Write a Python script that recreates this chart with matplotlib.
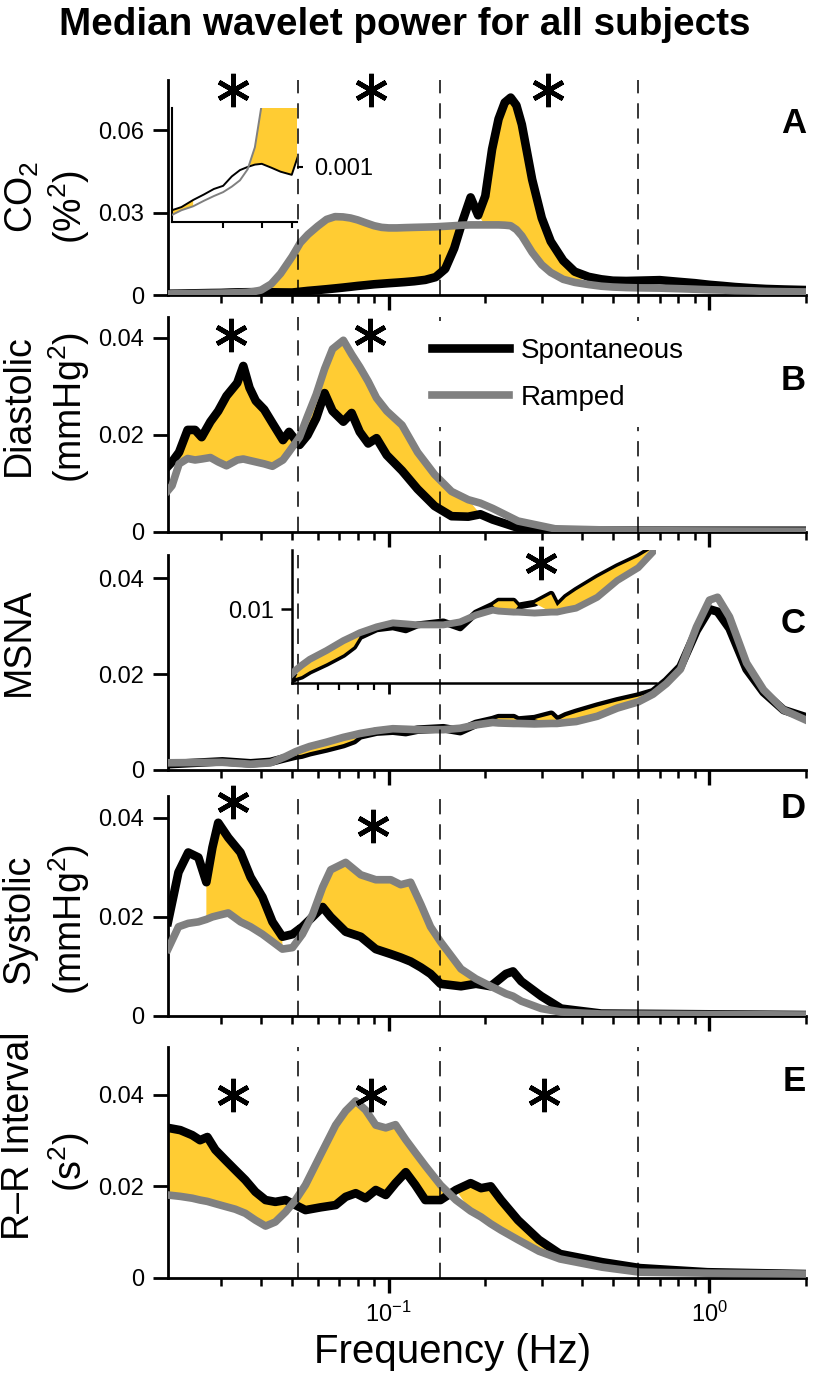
import matplotlib
matplotlib.use("Agg")
import numpy as np
import matplotlib.pyplot as plt
from matplotlib.ticker import FixedLocator, FuncFormatter, LogLocator, NullFormatter
from matplotlib.transforms import blended_transform_factory

plt.rcParams['font.family'] = 'Liberation Sans'
plt.rcParams['mathtext.fontset'] = 'custom'
plt.rcParams['mathtext.rm'] = 'Liberation Sans'
plt.rcParams['mathtext.it'] = 'Liberation Sans:italic'
plt.rcParams['mathtext.bf'] = 'Liberation Sans:bold'

# ---------------- data ----------------
band_edges = [0.052, 0.145, 0.6]

# A: CO2
freq_a = [0.0205, 0.022, 0.024, 0.026, 0.028, 0.030, 0.032, 0.034, 0.036, 0.038, 0.040,
          0.043, 0.046, 0.050, 0.053, 0.056, 0.060, 0.064, 0.068, 0.072, 0.076, 0.080,
          0.085, 0.090, 0.095, 0.100, 0.106, 0.112, 0.120, 0.130, 0.140, 0.150, 0.160,
          0.170, 0.180, 0.190, 0.200, 0.210, 0.220, 0.230, 0.240, 0.250, 0.260, 0.280,
          0.300, 0.320, 0.350, 0.380, 0.420, 0.460, 0.500, 0.550, 0.600, 0.700, 0.800,
          0.900, 1.00, 1.10, 1.20, 1.35, 1.50, 1.70, 2.00]
spont_a = [0.00045, 0.00049, 0.00058, 0.00065, 0.00072, 0.00076, 0.00088, 0.00096, 0.00100,
           0.00103, 0.00104, 0.00099, 0.00094, 0.00090, 0.0012, 0.0015, 0.0018, 0.0021,
           0.0024, 0.0027, 0.0030, 0.0033, 0.0036, 0.0039, 0.0041, 0.0043, 0.0045, 0.0047,
           0.0050, 0.0055, 0.0065, 0.0095, 0.017, 0.027, 0.0355, 0.029, 0.036, 0.053, 0.064,
           0.070, 0.0718, 0.069, 0.062, 0.042, 0.028, 0.0195, 0.0125, 0.0085, 0.0066, 0.0057,
           0.0052, 0.0051, 0.0052, 0.0054, 0.0048, 0.0043, 0.0037, 0.0033, 0.0029, 0.0025,
           0.0022, 0.0020, 0.0018]
ramp_a = [0.00039, 0.00045, 0.00050, 0.00057, 0.00063, 0.00068, 0.00075, 0.00083, 0.00097,
          0.00125, 0.0018, 0.004, 0.0078, 0.014, 0.019, 0.022, 0.025, 0.0275, 0.0285, 0.0284,
          0.028, 0.0273, 0.0262, 0.0252, 0.0246, 0.0244, 0.0244, 0.0245, 0.0246, 0.0247,
          0.0248, 0.025, 0.0252, 0.0254, 0.0255, 0.0255, 0.0255, 0.0255, 0.0255, 0.0254,
          0.0252, 0.0238, 0.0215, 0.0155, 0.011, 0.0082, 0.0057, 0.0046, 0.0038, 0.0032,
          0.0029, 0.0027, 0.0026, 0.0025, 0.0023, 0.0021, 0.0019, 0.0018, 0.0016, 0.0015,
          0.0013, 0.0012, 0.0011]
sig_a = [(0.0205, 0.024), (0.038, 0.172), (0.198, 0.40)]
stars_a = [0.0328, 0.0879, 0.314]

# B: diastolic
freq_b = [0.0205, 0.0211, 0.0222, 0.0236, 0.0249, 0.0261, 0.0278, 0.0294, 0.0312, 0.0337,
          0.0352, 0.0368, 0.0385, 0.0409, 0.0434, 0.0468, 0.0489, 0.0527, 0.0558, 0.0594,
          0.0631, 0.0668, 0.0722, 0.0766, 0.0812, 0.0863, 0.0916, 0.0986, 0.110, 0.123,
          0.139, 0.157, 0.177, 0.193, 0.211, 0.253, 0.330, 0.600, 2.00]
spont_b = [0.0135, 0.0144, 0.0164, 0.021, 0.021, 0.0195, 0.0227, 0.0249, 0.028, 0.0307,
           0.0342, 0.0297, 0.027, 0.0252, 0.0224, 0.0189, 0.0206, 0.0179, 0.0199, 0.0234,
           0.0286, 0.0249, 0.0227, 0.0245, 0.0206, 0.0182, 0.0193, 0.0158, 0.0126, 0.0088,
           0.0053, 0.0032, 0.0031, 0.0036, 0.0025, 0.0008, 0.0002, 0.0002, 0.0002]
ramp_b = [0.0085, 0.0095, 0.0140, 0.0151, 0.0148, 0.0150, 0.0153, 0.0144, 0.0136, 0.0148,
          0.0150, 0.0147, 0.0144, 0.0140, 0.0135, 0.0148, 0.0165, 0.0195, 0.0238, 0.0283,
          0.0336, 0.0377, 0.0395, 0.0366, 0.0340, 0.0310, 0.0276, 0.0249, 0.0220, 0.0164,
          0.0118, 0.0083, 0.0066, 0.0059, 0.0048, 0.0022, 0.0006, 0.0002, 0.0001]
sig_b = [(0.022, 0.050), (0.052, 0.18)]
stars_b = [0.0322, 0.0874]

# C: MSNA
freq_c = [0.0205, 0.0303, 0.0371, 0.0428, 0.0477, 0.0512, 0.0535, 0.0567, 0.0640, 0.0722,
          0.0778, 0.0812, 0.0917, 0.103, 0.113, 0.123, 0.148, 0.167, 0.187, 0.211, 0.220,
          0.245, 0.253, 0.285, 0.321, 0.335, 0.357, 0.384, 0.447, 0.516, 0.600, 0.667,
          0.734, 0.812, 0.911, 1.00, 1.06, 1.155, 1.305, 1.475, 1.703, 2.00]
spont_c = [0.0012, 0.0018, 0.0014, 0.0017, 0.0025, 0.0030, 0.0032, 0.0037, 0.0045, 0.0054,
           0.0062, 0.0072, 0.0080, 0.0082, 0.0079, 0.0084, 0.0087, 0.0081, 0.0096, 0.0104,
           0.0108, 0.0108, 0.0103, 0.0106, 0.0115, 0.0103, 0.0112, 0.0119, 0.0132, 0.0143,
           0.0153, 0.0162, 0.0185, 0.0215, 0.029, 0.0335, 0.033, 0.0295, 0.021, 0.0162,
           0.0125, 0.0110]
ramp_c = [0.0015, 0.0016, 0.0012, 0.0015, 0.0028, 0.0038, 0.0043, 0.0049, 0.0058, 0.0068,
          0.0073, 0.0076, 0.0082, 0.0086, 0.0085, 0.0084, 0.0084, 0.0087, 0.0094, 0.0099,
          0.0098, 0.0097, 0.0097, 0.0096, 0.0097, 0.0097, 0.0099, 0.0101, 0.0112, 0.0129,
          0.0142, 0.0158, 0.0180, 0.0210, 0.0298, 0.0354, 0.0360, 0.0319, 0.0223, 0.0167,
          0.0125, 0.0104]
sig_c = [(0.053, 0.078), (0.219, 0.246), (0.318, 0.336), (0.355, 0.601)]
stars_c = [0.298]

# D: systolic
freq_d = [0.0205, 0.0221, 0.0237, 0.0255, 0.0270, 0.0282, 0.0294, 0.0316, 0.0345, 0.0371,
          0.0404, 0.0434, 0.0466, 0.0501, 0.0538, 0.0579, 0.0622, 0.0659, 0.0734, 0.0818,
          0.0911, 0.1015, 0.109, 0.117, 0.126, 0.135, 0.145, 0.168, 0.187, 0.208, 0.232,
          0.244, 0.259, 0.299, 0.345, 0.460, 2.00]
spont_d = [0.019, 0.029, 0.033, 0.032, 0.027, 0.034, 0.039, 0.036, 0.033, 0.028, 0.024,
           0.019, 0.016, 0.0165, 0.018, 0.020, 0.022, 0.020, 0.017, 0.016, 0.0135, 0.0125,
           0.0118, 0.011, 0.0098, 0.0085, 0.0065, 0.006, 0.0065, 0.006, 0.0085, 0.009,
           0.007, 0.004, 0.0015, 0.0005, 0.0002]
ramp_d = [0.0135, 0.018, 0.0187, 0.019, 0.0195, 0.020, 0.0203, 0.0208, 0.019, 0.018, 0.0165,
          0.015, 0.0135, 0.0138, 0.0165, 0.0205, 0.026, 0.0295, 0.031, 0.0285, 0.0275,
          0.0275, 0.0265, 0.027, 0.0225, 0.018, 0.015, 0.0095, 0.0075, 0.006, 0.0045, 0.004,
          0.003, 0.0015, 0.0008, 0.0004, 0.0002]
sig_d = [(0.027, 0.047), (0.056, 0.19)]
stars_d = [0.0326, 0.089]

# E: R-R interval
freq_e = [0.0205, 0.0224, 0.0244, 0.0258, 0.0272, 0.0288, 0.0309, 0.0332, 0.0357, 0.0384,
          0.0413, 0.0443, 0.0477, 0.0512, 0.0550, 0.0613, 0.0683, 0.0734, 0.0789, 0.0847,
          0.0911, 0.0979, 0.105, 0.113, 0.121, 0.130, 0.145, 0.162, 0.180, 0.194, 0.208,
          0.224, 0.253, 0.294, 0.342, 0.463, 0.608, 0.986, 2.00]
spont_e = [0.0328, 0.0323, 0.0312, 0.0301, 0.0308, 0.028, 0.0258, 0.0236, 0.0214, 0.0188,
           0.017, 0.0166, 0.017, 0.0159, 0.0148, 0.0154, 0.0159, 0.0177, 0.0185, 0.0174,
           0.0192, 0.0181, 0.0207, 0.0231, 0.0203, 0.017, 0.017, 0.0192, 0.0207, 0.0196,
           0.020, 0.017, 0.0126, 0.0083, 0.0052, 0.0034, 0.0021, 0.0012, 0.0008]
ramp_e = [0.0181, 0.0178, 0.0174, 0.017, 0.0167, 0.0162, 0.0156, 0.0150, 0.0141, 0.0126,
          0.0113, 0.0122, 0.0144, 0.017, 0.0203, 0.0269, 0.0334, 0.0365, 0.0387, 0.0367,
          0.0334, 0.0328, 0.0335, 0.0302, 0.0274, 0.0245, 0.0203, 0.0170, 0.0146, 0.0133,
          0.0118, 0.0104, 0.0083, 0.0058, 0.0041, 0.0023, 0.0012, 0.0010, 0.0008]
sig_e = [(0.0205, 0.049), (0.052, 0.15), (0.175, 0.36)]
stars_e = [0.0328, 0.088, 0.305]

# ---------------- style ----------------
W, H = 815, 1374
BLACK = 'black'
GREY = '#808080'
GOLD = '#FFCC33'
TICK_FS = 17


def box(left, top, right, bottom):
    return [left / W, 1 - bottom / H, (right - left) / W, (bottom - top) / H]


def sig_mask(freq, bands):
    freq = np.asarray(freq)
    mask = np.zeros(len(freq), bool)
    for lo, hi in bands:
        mask |= (freq >= lo) & (freq <= hi)
    return mask


zero_fmt = FuncFormatter(lambda v, p: '0' if v == 0 else f'{v:g}')

panels = [
    dict(freq=freq_a, spont=spont_a, ramp=ramp_a, sig=sig_a, stars=stars_a, star_y=[0.953] * 3,
         pos=(80, 295), ytop=0.0782, yticks=[0, 0.03, 0.06], letter='A', letter_y=0.753, fz=1),
    dict(freq=freq_b, spont=spont_b, ramp=ramp_b, sig=sig_b, stars=stars_b, star_y=[0.915] * 2,
         pos=(317, 531.7), ytop=0.0443, yticks=[0, 0.02, 0.04], letter='B', letter_y=0.66, fz=1),
    dict(freq=freq_c, spont=spont_c, ramp=ramp_c, sig=sig_c, stars=[], star_y=[],
         pos=(555, 770), ytop=0.0448, yticks=[0, 0.02, 0.04], letter='C', letter_y=0.637, fz=2.5),
    dict(freq=freq_d, spont=spont_d, ramp=ramp_d, sig=sig_d, stars=stars_d, star_y=[0.973, 0.864],
         pos=(796, 1016), ytop=0.0444, yticks=[0, 0.02, 0.04], letter='D', letter_y=0.9, fz=1),
    dict(freq=freq_e, spont=spont_e, ramp=ramp_e, sig=sig_e, stars=stars_e, star_y=[0.792] * 3,
         pos=(1047, 1277.7), ytop=0.0505, yticks=[0, 0.02, 0.04], letter='E', letter_y=0.81, fz=1),
]

fig = plt.figure(figsize=(W / 100, H / 100), dpi=100)
axes = []
for i, p in enumerate(panels):
    top, bottom = p['pos']
    ax = fig.add_axes(box(168, top, 806, bottom))
    axes.append(ax)
    f = np.asarray(p['freq'])
    ax.fill_between(f, p['spont'], p['ramp'], where=sig_mask(f, p['sig']), interpolate=True,
                    color=GOLD, lw=0, zorder=p['fz'])
    ax.plot(f, p['spont'], color=BLACK, lw=6.2, solid_joinstyle='round', zorder=2,
            label='Spontaneous')
    ax.plot(f, p['ramp'], color=GREY, lw=5.5, solid_joinstyle='round', zorder=3,
            label='Ramped')
    for b in band_edges:
        ax.axvline(b, color='black', lw=1.1, dashes=(10, 6.5), zorder=4)
    trans = blended_transform_factory(ax.transData, ax.transAxes)
    ax.plot(p['stars'], p['star_y'], ls='none', marker=(6, 2, 0), ms=24, mew=3.4,
            color='black', transform=trans, clip_on=False, zorder=6)
    ax.text(1.0, p['letter_y'], p['letter'], transform=ax.transAxes, ha='right',
            va='baseline', fontsize=25, fontweight='bold')

    ax.set_xscale('log')
    ax.set_xlim(0.0205, 2.0)
    ax.set_ylim(0, p['ytop'])
    ax.set_yticks(p['yticks'])
    ax.yaxis.set_major_formatter(zero_fmt)
    ax.xaxis.set_major_locator(FixedLocator([0.1, 1.0]))
    ax.xaxis.set_minor_locator(LogLocator(base=10, subs=np.arange(2, 10)))
    ax.xaxis.set_minor_formatter(NullFormatter())
    for s in ('top', 'right'):
        ax.spines[s].set_visible(False)
    for s in ('left', 'bottom'):
        ax.spines[s].set_linewidth(2.0)
    ax.tick_params(axis='x', which='major', direction='out', length=11, width=2.4,
                   labelsize=TICK_FS, pad=6)
    ax.tick_params(axis='x', which='minor', direction='out', length=5.5, width=1.8)
    ax.tick_params(axis='y', direction='out', length=11, width=2.0, labelsize=TICK_FS, pad=6)
    if i < len(panels) - 1:
        ax.tick_params(axis='x', labelbottom=False)

# legend in panel B
axes[1].legend(loc='upper left', bbox_to_anchor=(415 / W, 1 - 321 / H),
               bbox_transform=fig.transFigure, frameon=True, facecolor='white',
               edgecolor='none', framealpha=1, fancybox=False, fontsize=20,
               handlelength=2.77, handletextpad=0.43, labelspacing=0.76,
               borderpad=0.6, borderaxespad=0).set_zorder(8)

# inset in A: low-frequency detail
ins_a = fig.add_axes(box(172, 108, 297, 222))
ins_a.set_facecolor('none')
fa = np.asarray(freq_a)
ins_a.fill_between(fa, spont_a, ramp_a, where=sig_mask(fa, sig_a), interpolate=True,
                   color=GOLD, lw=0, zorder=1)
ins_a.plot(fa, spont_a, color=BLACK, lw=1.4, zorder=2)
ins_a.plot(fa, ramp_a, color=GREY, lw=1.4, zorder=3)
ins_a.set_xscale('log')
ins_a.set_xlim(0.0205, 0.052)
ins_a.set_ylim(0.0003, 0.00175)
ins_a.yaxis.tick_right()
ins_a.set_yticks([0.001])
ins_a.yaxis.set_major_formatter(zero_fmt)
ins_a.xaxis.set_major_locator(FixedLocator([]))
ins_a.xaxis.set_minor_locator(FixedLocator([0.03, 0.04, 0.05]))
ins_a.xaxis.set_minor_formatter(NullFormatter())
for s in ('top', 'right'):
    ins_a.spines[s].set_visible(False)
for s in ('left', 'bottom'):
    ins_a.spines[s].set_linewidth(1.5)
ins_a.tick_params(axis='x', which='minor', direction='out', length=4, width=1.5)
ins_a.tick_params(axis='y', direction='out', length=4, width=1.5, labelsize=TICK_FS, pad=8)

# inset in C: mid-frequency detail
ins_c = fig.add_axes(box(292.2, 550, 655.7, 683))
ins_c.set_facecolor('none')
fc = np.asarray(freq_c)
ins_c.fill_between(fc, spont_c, ramp_c, where=sig_mask(fc, sig_c), interpolate=True,
                   color=GOLD, lw=0, zorder=2.5)
ins_c.plot(fc, spont_c, color=BLACK, lw=5.0, zorder=2)
ins_c.plot(fc, ramp_c, color=GREY, lw=5.0, zorder=3)
trans = blended_transform_factory(ins_c.transData, axes[2].transAxes)
ins_c.plot(stars_c, [0.963], ls='none', marker=(6, 2, 0), ms=24, mew=3.4, color='black',
           transform=trans, clip_on=False, zorder=6)
ins_c.set_xscale('log')
ins_c.set_xlim(0.05, 0.68)
ins_c.set_ylim(0.0025, 0.016)
ins_c.set_yticks([0.01])
ins_c.yaxis.set_major_formatter(zero_fmt)
ins_c.xaxis.set_major_locator(FixedLocator([0.1]))
ins_c.xaxis.set_minor_locator(FixedLocator([0.06, 0.07, 0.08, 0.09]))
ins_c.xaxis.set_major_formatter(NullFormatter())
ins_c.xaxis.set_minor_formatter(NullFormatter())
for s in ('top', 'right'):
    ins_c.spines[s].set_visible(False)
for s in ('left', 'bottom'):
    ins_c.spines[s].set_linewidth(1.8)
ins_c.tick_params(axis='x', which='major', direction='out', length=8, width=2)
ins_c.tick_params(axis='x', which='minor', direction='out', length=5, width=1.6)
ins_c.tick_params(axis='y', direction='out', length=8, width=1.8, labelsize=TICK_FS, pad=5)

# text
fig.text(405 / W, 1 - 25 / H, 'Median wavelet power for all subjects', ha='center',
         va='center', fontsize=27.8, fontweight='bold')
fig.text(453 / W, 1 - 1352 / H, 'Frequency (Hz)', ha='center', va='center', fontsize=29)

ylabels = [
    ('CO$_2$', 22, 197), ('(%$^2$)', 69, 207),
    ('Diastolic', 19, 405), ('(mmHg$^2$)', 69, 407),
    ('MSNA', 19, 642),
    ('Systolic', 19, 919), ('(mmHg$^2$)', 69, 919),
    ('R\u2013R Interval', 19, 1136), ('(s$^2$)', 69, 1162),
]
for txt, x, y in ylabels:
    fig.text(x / W, 1 - y / H, txt, rotation=90, ha='center', va='center', fontsize=27)

fig.savefig('out.png', dpi=100)
